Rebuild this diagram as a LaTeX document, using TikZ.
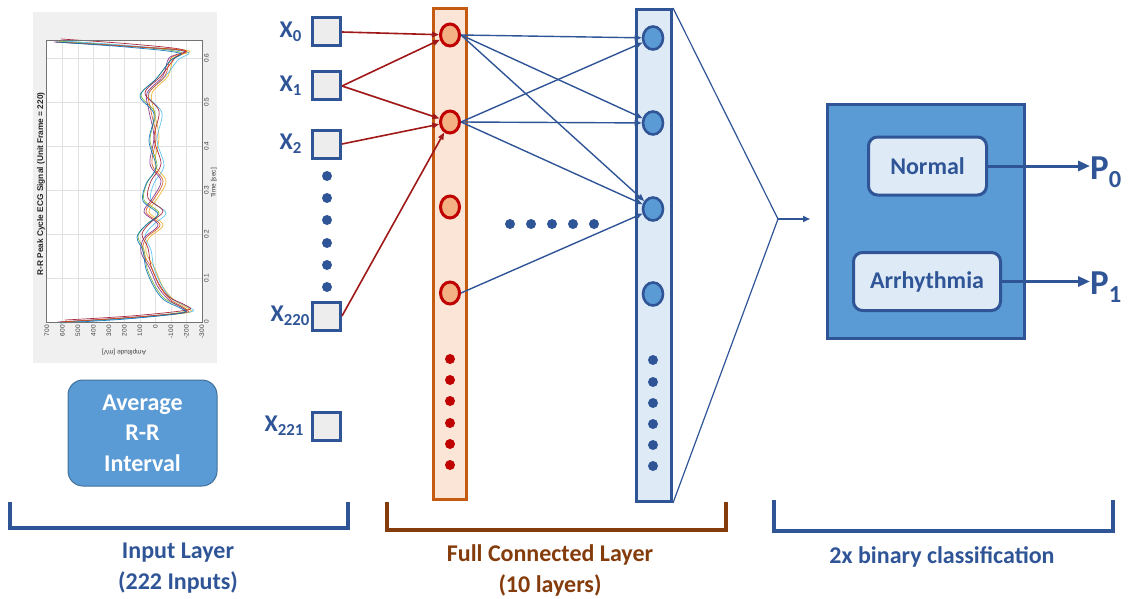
\documentclass[tikz,border=0pt]{standalone}
\usepackage{fontspec}
\setmainfont{Carlito}
\newfontfamily\plotfont{Liberation Sans}
\usetikzlibrary{arrows.meta,shapes.geometric,positioning}

\definecolor{navy}{HTML}{2F5597}
\definecolor{skyfill}{HTML}{5B9BD5}
\definecolor{skyline}{HTML}{41719C}
\definecolor{paleblue}{HTML}{DEEBF7}
\definecolor{rust}{HTML}{C55A11}
\definecolor{paleorange}{HTML}{FBE5D6}
\definecolor{peach}{HTML}{F4B183}
\definecolor{darkred}{HTML}{C00000}
\definecolor{edgered}{HTML}{A01818}
\definecolor{fcbrown}{HTML}{843C0C}
\definecolor{boxgray}{HTML}{EDEDED}
\definecolor{panelgray}{HTML}{F0F0F0}
\definecolor{gridgray}{HTML}{E2E2E2}
\definecolor{mlblue}{HTML}{0072BD}
\definecolor{mlorange}{HTML}{D95319}
\definecolor{mlyellow}{HTML}{EDB120}
\definecolor{mlpurple}{HTML}{7E2F8E}
\definecolor{mlgreen}{HTML}{77AC30}
\definecolor{mlcyan}{HTML}{4DBEEE}
\definecolor{mlred}{HTML}{A2142F}

\newcommand{\ecgA}{plot[smooth,tension=0.55] coordinates {(60,322) (124,318) (183,313)
  (186,309) (171,300) (160,287) (152,269) (143,252) (146,238) (160,225) (146,212)
  (154,199) (163,181) (152,164) (156,137) (151,111) (149,93) (165,76) (171,58)
  (186,51) (140,47) (56,42)}}
\newcommand{\ecgB}{plot[smooth,tension=0.55] coordinates {(64,322) (130,318) (186,312)
  (184,307) (168,299) (158,286) (150,268) (147,250) (141,236) (150,224) (162,213)
  (147,200) (150,183) (160,166) (153,140) (158,113) (144,95) (160,78) (174,60)
  (183,52) (130,46) (60,41)}}

\tikzset{
  gridl/.style={gridgray, line width=0.6pt},
  trace/.style={line width=0.7pt, opacity=0.9},
  ticklab/.style={font=\plotfont\fontsize{6.5}{7}\selectfont, text=black!75, inner sep=1pt},
  inbox/.style={draw=navy, fill=boxgray, line width=3pt, minimum size=28pt, inner sep=0pt},
  xlab/.style={text=navy, font=\fontsize{24}{26}\selectfont\bfseries, inner sep=1pt},
  ocol/.style={draw=rust, fill=paleorange, line width=3pt, minimum width=33pt, minimum height=491pt},
  bcol/.style={draw=navy, fill=paleblue, line width=3pt, minimum width=35pt, minimum height=492pt},
  oneu/.style={ellipse, draw=darkred, fill=peach, line width=3pt, minimum width=19pt, minimum height=22pt, inner sep=0pt},
  bneu/.style={ellipse, draw=navy, fill=skyfill, line width=2.6pt, minimum width=20pt, minimum height=23pt, inner sep=0pt},
  rdot/.style={circle, fill=darkred, minimum size=10pt, inner sep=0pt},
  bdot/.style={circle, fill=navy, minimum size=10pt, inner sep=0pt},
  redarr/.style={edgered, line width=1.6pt, -{Triangle[length=7pt,width=5.5pt]}},
  bluearr/.style={navy, line width=1.4pt, -{Triangle[length=7pt,width=5.5pt]}},
  funnel/.style={navy, line width=1.2pt},
  avgbox/.style={draw=skyline, fill=skyfill, rounded corners=15pt, line width=1pt,
    minimum width=149pt, minimum height=106pt, align=center, text=white,
    font=\fontsize{24}{30.5}\selectfont\bfseries},
  clsbox/.style={draw=navy, fill=skyfill, line width=3pt, minimum width=197pt, minimum height=234pt},
  rbox/.style={draw=navy, fill=paleblue, rounded corners=9pt, line width=3pt, text=navy,
    font=\fontsize{24}{26}\selectfont\bfseries, minimum height=58pt},
  plab/.style={text=navy, font=\fontsize{35}{38}\selectfont\bfseries, inner sep=0pt},
  outarr/.style={navy, line width=3pt, -{Triangle[length=12pt,width=10pt]}},
  bracket/.style={line width=4pt},
  laybl/.style={align=center, font=\fontsize{24}{31}\selectfont\bfseries}
}

\begin{document}
\begin{tikzpicture}[x=1pt,y=-1pt]
  \useasboundingbox (0,0) rectangle (1142,599);

  % ecg panel
  \fill[panelgray] (33,12) rectangle (217,363);
  \fill[white] (46,40) rectangle (202,322);
  \draw[gridl] (62.5,40) -- ++(0,282) (78,40) -- ++(0,282) (93.5,40) -- ++(0,282)
    (109,40) -- ++(0,282) (124.5,40) -- ++(0,282) (140,40) -- ++(0,282)
    (155.5,40) -- ++(0,282) (171,40) -- ++(0,282) (186.5,40) -- ++(0,282)
    (46,278) -- ++(156,0) (46,234) -- ++(156,0) (46,190) -- ++(156,0)
    (46,146) -- ++(156,0) (46,102) -- ++(156,0) (46,58) -- ++(156,0);
  \draw[trace, mlyellow, xshift=3pt] \ecgA;
  \draw[trace, mlgreen, xshift=-3pt] \ecgB;
  \draw[trace, mlcyan, xshift=4pt] \ecgB;
  \draw[trace, mlpurple, xshift=-2pt] \ecgA;
  \draw[trace, mlred, xshift=1pt, yshift=2pt] \ecgB;
  \draw[trace, mlorange] \ecgA;
  \draw[trace, mlblue, xshift=-4pt, yshift=-1pt] \ecgB;
  \draw[black!55, line width=0.5pt] (46,40) rectangle (202,322);
  \node[ticklab, rotate=90, anchor=north] (t0) at (203,322) {0};
  \node[ticklab, rotate=90, anchor=north] (t1) at (203,278) {0.1};
  \node[ticklab, rotate=90, anchor=north] (t2) at (203,234) {0.2};
  \node[ticklab, rotate=90, anchor=north] (t3) at (203,190) {0.3};
  \node[ticklab, rotate=90, anchor=north] (t4) at (203,146) {0.4};
  \node[ticklab, rotate=90, anchor=north] (t5) at (203,102) {0.5};
  \node[ticklab, rotate=90, anchor=north] (t6) at (203,58) {0.6};
  \node[ticklab, rotate=90, anchor=east] (a0) at (47,324) {700};
  \node[ticklab, rotate=90, anchor=east] (a1) at (62.5,324) {600};
  \node[ticklab, rotate=90, anchor=east] (a2) at (78,324) {500};
  \node[ticklab, rotate=90, anchor=east] (a3) at (93.5,324) {400};
  \node[ticklab, rotate=90, anchor=east] (a4) at (109,324) {300};
  \node[ticklab, rotate=90, anchor=east] (a5) at (124.5,324) {200};
  \node[ticklab, rotate=90, anchor=east] (a6) at (140,324) {100};
  \node[ticklab, rotate=90, anchor=east] (a7) at (155.5,324) {0};
  \node[ticklab, rotate=90, anchor=east] (a8) at (171,324) {-100};
  \node[ticklab, rotate=90, anchor=east] (a9) at (186.5,324) {-200};
  \node[ticklab, rotate=90, anchor=east] (a10) at (202,324) {-300};
  \node[ticklab, rotate=90] (tlab) at (214,183) {Time [sec]};
  \node[ticklab, rotate=180] (alab) at (124,352) {Amplitude [mV]};
  \node[rotate=90, font=\plotfont\fontsize{8.3}{9}\selectfont\bfseries, text=black!85] (ttl) at (41,184)
    {R-R Peak Cycle ECG Signal (Unit Frame = 220)};

  \node[avgbox] (avg) at (142.5,433) {Average\\R-R\\Interval};

  % input layer
  \draw
    (326.5,32) node[inbox] (x0) {}
    (326.5,86) node[inbox] (x1) {}
    (326.5,144) node[inbox] (x2) {}
    (326.5,316) node[inbox] (x220) {}
    (326.5,426) node[inbox] (x221) {};
  \node[xlab, left=8pt of x0] (lx0) {X\textsubscript{0}};
  \node[xlab, left=8pt of x1] (lx1) {X\textsubscript{1}};
  \node[xlab, left=8pt of x2] (lx2) {X\textsubscript{2}};
  \node[xlab, left=0pt of x220] (lx220) {X\textsubscript{220}};
  \node[xlab, left=6pt of x221] (lx221) {X\textsubscript{221}};
  \path
    (327,176) node[bdot] (i1) {}
    (327,198) node[bdot] (i2) {}
    (327,220) node[bdot] (i3) {}
    (327,243) node[bdot] (i4) {}
    (327,265) node[bdot] (i5) {}
    (327,287) node[bdot] (i6) {};

  % hidden layers
  \node[ocol] (col1) at (450,254) {};
  \node[bcol] (col2) at (654,255.5) {};
  \path
    (450,35) node[oneu] (o0) {}
    (450,122) node[oneu] (o1) {}
    (450,207) node[oneu] (o2) {}
    (450,293) node[oneu] (o3) {}
    (450,359) node[rdot] (r1) {}
    (450,380) node[rdot] (r2) {}
    (450,401) node[rdot] (r3) {}
    (450,423) node[rdot] (r4) {}
    (450,444) node[rdot] (r5) {}
    (450,465) node[rdot] (r6) {};
  \path
    (653,38) node[bneu] (b0) {}
    (653,123) node[bneu] (b1) {}
    (653,209) node[bneu] (b2) {}
    (653,294) node[bneu] (b3) {}
    (653,360) node[bdot] (d1) {}
    (653,382) node[bdot] (d2) {}
    (653,403) node[bdot] (d3) {}
    (653,424) node[bdot] (d4) {}
    (653,445) node[bdot] (d5) {}
    (653,466) node[bdot] (d6) {};
  \path
    (510,224) node[bdot] (m1) {}
    (531,224) node[bdot] (m2) {}
    (552,224) node[bdot] (m3) {}
    (573,224) node[bdot] (m4) {}
    (594,224) node[bdot] (m5) {};

  \begin{scope}[redarr]
    \draw (x0.east) to (o0);
    \draw (x1.east) to (o0);
    \draw (x1.east) to (o1);
    \draw (x2.east) to (o1);
    \draw (x220.east) to (o1);
  \end{scope}
  \begin{scope}[bluearr]
    \draw (o0.east) to (b0);
    \draw (o0.east) to (b1);
    \draw (o0.east) to (b2);
    \draw (o1.east) to (b0);
    \draw (o1.east) to (b1);
    \draw (o1.east) to (b2);
    \draw (o3.east) to (b2);
  \end{scope}

  % output
  \coordinate (apex) at (778,219);
  \coordinate (tip) at (810,219);
  \draw[funnel] (col2.north east) -- (apex) -- (col2.south east);
  \draw[navy, line width=2pt, -{Triangle[length=7pt,width=6pt]}] (apex) -- (tip);
  \node[clsbox] (cls) at (926,221.5) {};
  \node[rbox, minimum width=118pt] (normal) at (927.5,166) {Normal};
  \node[rbox, minimum width=147pt] (arr) at (927,281.5) {Arrhythmia};
  \node[plab, anchor=west] (p0) at (1090,172) {P\textsubscript{0}};
  \node[plab, anchor=west] (p1) at (1090,287) {P\textsubscript{1}};
  \draw[outarr] (normal.east) -- (normal.east -| p0.west);
  \draw[outarr] (arr.east) -- (arr.east -| p1.west);

  % brackets
  \draw[bracket, navy] (10,502) -- (10,528) -- (348,528) -- (348,502);
  \draw[bracket, fcbrown] (387,502) -- (387,530) -- (726,530) -- (726,502);
  \draw[bracket, navy] (774,500) -- (774,531) -- (1113,531) -- (1113,500);
  \node[laybl, text=navy] (inlab) at (178,568) {Input Layer\\(222 Inputs)};
  \node[laybl, text=fcbrown] (fclab) at (550,570) {Full Connected Layer\\(10 layers)};
  \node[laybl, text=navy] (clslab) at (942,557) {2x binary classification};
\end{tikzpicture}
\end{document}
